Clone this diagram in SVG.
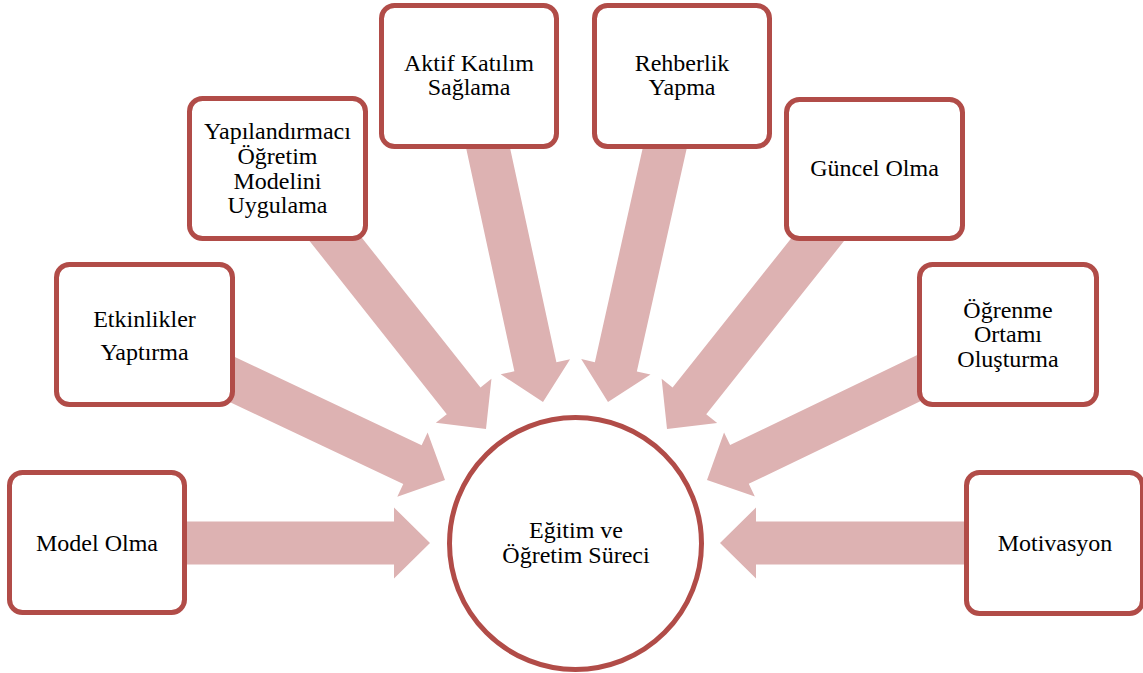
<svg xmlns="http://www.w3.org/2000/svg" xmlns:xlink="http://www.w3.org/1999/xlink" width="1143" height="673" viewBox="0 0 1143 673" font-family="'Liberation Serif', 'Times New Roman', serif">
<style>
.box{fill:#ffffff;stroke:#B14C48;stroke-width:5}
.arrow{fill:#DDB2B2}
text{font-family:'Liberation Serif','Times New Roman',serif;font-size:24px;fill:#000;text-anchor:middle}
</style>
<defs>
<polygon id="arr" points="0,0 -36,-35.5 -36,-21.5 -280,-21.5 -280,21.5 -36,21.5 -36,35.5"/>
</defs>
<rect width="1143" height="673" fill="#ffffff"/>
<g id="connectors" class="arrow">
<use xlink:href="#arr" href="#arr" transform="translate(430,543) rotate(0)"/>
<use xlink:href="#arr" href="#arr" transform="translate(445,480) rotate(25.3)"/>
<use xlink:href="#arr" href="#arr" transform="translate(486,429) rotate(51.6)"/>
<use xlink:href="#arr" href="#arr" transform="translate(543,402) rotate(77.8)"/>
<use xlink:href="#arr" href="#arr" transform="translate(608,402) rotate(102.6)"/>
<use xlink:href="#arr" href="#arr" transform="translate(667,429) rotate(128.5)"/>
<use xlink:href="#arr" href="#arr" transform="translate(707,480) rotate(154.3)"/>
<use xlink:href="#arr" href="#arr" transform="translate(720,543) rotate(180)"/>
</g>
<g id="center">
<circle class="box" cx="575.5" cy="543.5" r="126"/>
<text x="576" y="538">Eğitim ve</text>
<text x="576" y="563">Öğretim Süreci</text>
</g>
<g id="model-olma">
<rect class="box" x="9.5" y="472.5" width="175" height="140" rx="13"/>
<text x="97" y="551">Model Olma</text>
</g>
<g id="etkinlikler">
<rect class="box" x="56.5" y="264.5" width="176" height="140" rx="13"/>
<text x="144.5" y="327">Etkinlikler</text>
<text x="144.5" y="360">Yaptırma</text>
</g>
<g id="yapilandirmaci">
<rect class="box" x="189.5" y="98.5" width="176" height="140" rx="13"/>
<text x="277.5" y="139">Yapılandırmacı</text>
<text x="277.5" y="164">Öğretim</text>
<text x="277.5" y="189">Modelini</text>
<text x="277.5" y="213">Uygulama</text>
</g>
<g id="aktif-katilim">
<rect class="box" x="381.5" y="5.5" width="175" height="141" rx="13"/>
<text x="469" y="71">Aktif Katılım</text>
<text x="469" y="95">Sağlama</text>
</g>
<g id="rehberlik">
<rect class="box" x="594.5" y="5.5" width="175" height="141" rx="13"/>
<text x="682" y="71">Rehberlik</text>
<text x="682" y="95">Yapma</text>
</g>
<g id="guncel-olma">
<rect class="box" x="786.5" y="99.5" width="176" height="139" rx="13"/>
<text x="874.5" y="176">Güncel Olma</text>
</g>
<g id="ogrenme-ortami">
<rect class="box" x="919.5" y="264.5" width="177" height="140" rx="13"/>
<text x="1008" y="318">Öğrenme</text>
<text x="1008" y="342">Ortamı</text>
<text x="1008" y="367">Oluşturma</text>
</g>
<g id="motivasyon">
<rect class="box" x="966.5" y="472.5" width="176" height="141" rx="13"/>
<text x="1055" y="551">Motivasyon</text>
</g>
</svg>
